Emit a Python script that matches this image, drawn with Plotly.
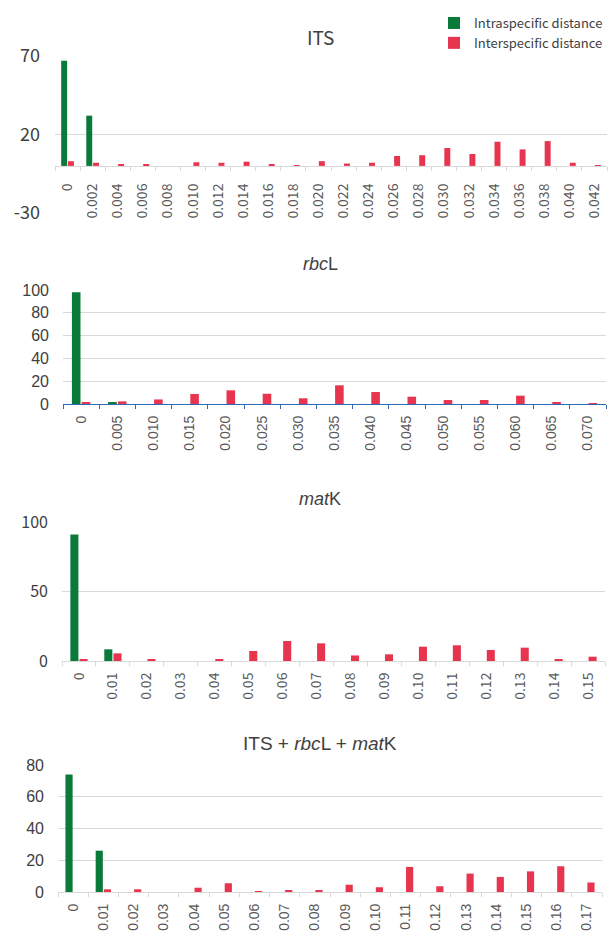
import plotly.graph_objects as go

# ---------------- data ----------------
its_cats = ["0", "0.002", "0.004", "0.006", "0.008", "0.010", "0.012", "0.014", "0.016", "0.018",
            "0.020", "0.022", "0.024", "0.026", "0.028", "0.030", "0.032", "0.034", "0.036", "0.038",
            "0.040", "0.042"]
its_intra = [67, 32, 0, 0, 0, 0, 0, 0, 0, 0, 0, 0, 0, 0, 0, 0, 0, 0, 0, 0, 0, 0]
its_inter = [3, 2, 0.6, 1, 0, 2.3, 2, 2.7, 1, 0.2, 3, 1.5, 2, 6.3, 6.8, 11.4, 7.6, 15.4, 10.5, 15.8, 2, 0.5]
its_yticks = [-30, 20, 70]
its_yticktext = ["-30", "20", "70"]

rbcl_cats = ["0", "0.005", "0.010", "0.015", "0.020", "0.025", "0.030", "0.035", "0.040", "0.045",
             "0.050", "0.055", "0.060", "0.065", "0.070"]
rbcl_intra = [98, 1.3, 0, 0, 0, 0, 0, 0, 0, 0, 0, 0, 0, 0, 0]
rbcl_inter = [1.2, 2.3, 4, 8.8, 12, 9, 5, 16.4, 10.5, 6.4, 3.5, 3.5, 7.3, 0.9, 0.6]

matk_cats = ["0", "0.01", "0.02", "0.03", "0.04", "0.05", "0.06", "0.07", "0.08", "0.09",
             "0.10", "0.11", "0.12", "0.13", "0.14", "0.15"]
matk_intra = [91, 8.4, 0, 0, 0, 0, 0, 0, 0, 0, 0, 0, 0, 0, 0, 0]
matk_inter = [1.2, 5.5, 1, 0, 1.4, 7.2, 14.4, 12.7, 4, 4.8, 10.3, 11.3, 7.9, 9.6, 1.2, 3.1]

comb_cats = ["0", "0.01", "0.02", "0.03", "0.04", "0.05", "0.06", "0.07", "0.08", "0.09",
             "0.10", "0.11", "0.12", "0.13", "0.14", "0.15", "0.16", "0.17"]
comb_intra = [74, 26, 0, 0, 0, 0, 0, 0, 0, 0, 0, 0, 0, 0, 0, 0, 0, 0]
comb_inter = [0, 1.7, 1.7, 0, 2.7, 5.5, 0.6, 1, 1, 4.6, 3, 15.8, 3.6, 11.6, 9.5, 13, 16.2, 6]

series_names = ["Intraspecific distance", "Interspecific distance"]
titles = ["ITS", "<i>rbc</i>L", "<i>mat</i>K", "ITS + <i>rbc</i>L + <i>mat</i>K"]

# ---------------- style ----------------
W, H = 608, 935
GREEN = "#0a7a3a"
RED = "#e8354f"
GRID = "#d9d9d9"
KR = "Noto Sans CJK KR, Malgun Gothic, sans-serif"
AR = "Liberation Sans, Arial, sans-serif"

def px_x(x):
    return x / W

def px_y(y):
    return 1 - y / H

panels = [
    dict(cats=its_cats, intra=its_intra, inter=its_inter, x0=55, x1=607, ytop=56, ybot=213,
         yr=[-30, 70], dtick=50, tick0=-30, font=KR, yfs=18, xfs=14, ty=37, tfs=19, tfont=KR,
         lc=GRID, axy=166, xso=11, yso=14),
    dict(cats=rbcl_cats, intra=rbcl_intra, inter=rbcl_inter, x0=63, x1=606, ytop=290, ybot=404,
         yr=[0, 100], dtick=20, tick0=0, font=AR, yfs=16, xfs=14, ty=264, tfs=18, tfont=AR,
         lc="#2e6bb5", axy=404, xso=5, yso=13),
    dict(cats=matk_cats, intra=matk_intra, inter=matk_inter, x0=62, x1=605, ytop=522, ybot=661,
         yr=[0, 100], dtick=50, tick0=0, font=KR, yfs=16, xfs=14, ty=499, tfs=18, tfont=AR,
         lc=GRID, axy=661, xso=5, yso=13),
    dict(cats=comb_cats, intra=comb_intra, inter=comb_inter, x0=58, x1=602, ytop=765, ybot=892,
         yr=[0, 80], dtick=20, tick0=0, font=AR, yfs=16, xfs=14, ty=743, tfs=19, tfont=AR,
         lc=GRID, axy=892, xso=5, yso=13),
]

fig = go.Figure()
layout = {}
annotations = []
for i, p in enumerate(panels, start=1):
    xa = "x" if i == 1 else f"x{i}"
    ya = "y" if i == 1 else f"y{i}"
    for name, vals, col in [(series_names[0], p["intra"], GREEN), (series_names[1], p["inter"], RED)]:
        fig.add_trace(go.Bar(x=p["cats"], y=vals, name=name, marker_color=col,
                             marker_line_width=0, xaxis=xa, yaxis=ya,
                             legendgroup=name, showlegend=(i == 1)))
    ydom = [px_y(p["ybot"]), px_y(p["ytop"])]
    xkey = "xaxis" if i == 1 else f"xaxis{i}"
    ykey = "yaxis" if i == 1 else f"yaxis{i}"
    layout[xkey] = dict(
        domain=[px_x(p["x0"]), min(1.0, px_x(p["x1"]))], anchor="free", position=px_y(p["axy"]),
        type="category", tickangle=-90, showgrid=False, showline=True, linecolor=p["lc"],
        linewidth=1.3 if i == 2 else 1, ticks="outside", tickson="boundaries", ticklen=4,
        tickcolor=p["lc"], tickfont=dict(family=p["font"], size=p["xfs"], color="#595959"),
        ticklabelstandoff=p["xso"], fixedrange=True, zeroline=False, automargin=False,
    )
    layout[ykey] = dict(
        domain=ydom, anchor=xa, range=p["yr"], dtick=p["dtick"], tick0=p["tick0"],
        showgrid=True, gridcolor=GRID, gridwidth=1, zeroline=False, showline=False,
        tickfont=dict(family=p["font"], size=p["yfs"], color="#404040"),
        ticklabelstandoff=p["yso"], fixedrange=True, automargin=False,
    )
    annotations.append(dict(text=titles[i - 1], x=px_x(320), y=px_y(p["ty"]), xref="paper",
                            yref="paper", showarrow=False, xanchor="center", yanchor="middle",
                            font=dict(family=p["tfont"], size=p["tfs"], color="#404040")))

# ITS y axis uses a plain hyphen for the negative label, as in the reference
layout["yaxis"].update(tickmode="array", tickvals=its_yticks, ticktext=its_yticktext)

fig.update_layout(
    **layout,
    annotations=annotations,
    width=W, height=H,
    margin=dict(l=0, r=0, t=0, b=0, pad=0, autoexpand=False),
    paper_bgcolor="white", plot_bgcolor="white",
    barmode="group", bargap=0.46, bargroupgap=0.12,
    showlegend=True,
    legend=dict(x=1.0, y=px_y(8), xanchor="right", yanchor="top",
                font=dict(family=KR, size=13, color="#404040"),
                bgcolor="rgba(0,0,0,0)", tracegroupgap=0, itemwidth=30,
                traceorder="normal"),
)

fig.write_html(
    "out.html",
    config={"displayModeBar": False},
    post_script="document.body.style.margin='0';document.body.style.overflow='hidden';"
                "document.documentElement.style.overflow='hidden';",
)
